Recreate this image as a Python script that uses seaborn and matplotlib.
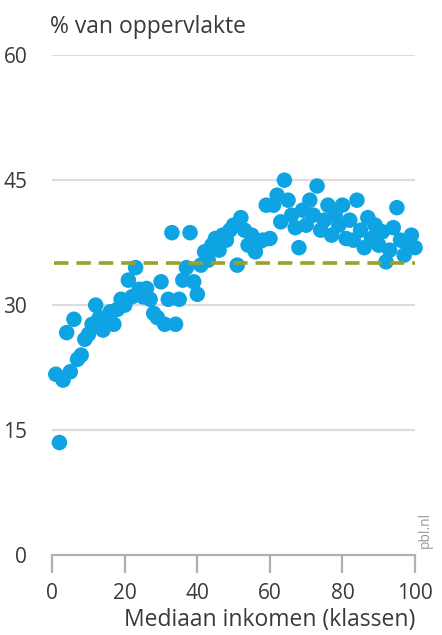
import matplotlib
matplotlib.use("Agg")
import matplotlib.pyplot as plt
import seaborn as sns
import pandas as pd
import numpy as np

income_class = list(range(1, 101))
area_pct = [
    21.7, 13.5, 21.0, 26.7, 22.0, 28.3, 23.5, 24.0, 25.9, 26.5,
    27.7, 30.0, 28.5, 27.0, 28.3, 29.2, 27.7, 29.5, 30.7, 30.0,
    33.0, 31.0, 34.5, 31.9, 31.0, 32.0, 30.7, 29.0, 28.5, 32.8,
    27.7, 30.7, 38.7, 27.7, 30.7, 33.0, 34.5, 38.7, 32.8, 31.3,
    34.8, 36.4, 35.4, 37.2, 38.0, 36.6, 38.4, 37.8, 39.0, 39.6,
    34.8, 40.5, 39.0, 37.2, 38.4, 36.4, 37.6, 37.8, 42.0, 38.0,
    42.0, 43.2, 40.0, 45.0, 42.6, 40.8, 39.3, 36.9, 41.4, 39.6,
    42.6, 40.8, 44.3, 39.0, 40.2, 42.0, 38.4, 40.8, 39.6, 42.0,
    38.0, 40.2, 37.8, 42.6, 39.0, 36.9, 40.5, 38.0, 39.6, 37.2,
    38.8, 35.2, 36.6, 39.3, 41.7, 37.8, 36.0, 37.2, 38.4, 36.9,
]
average_pct = 35.0
y_ticks = [0, 15, 30, 45, 60]
x_ticks = [0, 20, 40, 60, 80, 100]

df = pd.DataFrame({"klasse": income_class, "oppervlakte": area_pct})

sns.set_style("white")
plt.rcParams["font.family"] = ["Open Sans", "DejaVu Sans"]

fig = plt.figure(figsize=(4.42, 6.35), dpi=100)
ax = fig.add_axes([0.118, 0.126, 0.821, 0.787])

for yt in y_ticks[1:]:
    ax.axhline(yt, color="#dcdcdc", lw=1.6, zorder=0)

sns.scatterplot(data=df, x="klasse", y="oppervlakte", ax=ax, s=125,
                color="#0ea4e4", edgecolor="none", linewidth=0, zorder=3,
                clip_on=False, legend=False)

ax.plot([0.5, 100], [average_pct, average_pct], color="#9aa02c", lw=2.6,
        dashes=(4, 2.2), zorder=4)

ax.set_xlim(0, 100)
ax.set_ylim(0, 60)
ax.set_xticks(x_ticks)
ax.set_yticks(y_ticks)
ax.set_xlabel("Mediaan inkomen (klassen)", fontsize=16.5, color="#3a3a3a",
              labelpad=3, loc="right")
ax.set_ylabel("")
for s in ["top", "right", "left"]:
    ax.spines[s].set_visible(False)
ax.spines["bottom"].set_color("#b0b0b0")
ax.spines["bottom"].set_linewidth(1.6)
ax.tick_params(axis="x", direction="out", length=13, width=1.6, color="#b0b0b0",
               labelsize=15, labelcolor="#3a3a3a", pad=7, bottom=True)
ax.tick_params(axis="y", length=0, labelsize=15, labelcolor="#3a3a3a", pad=18)

fig.text(0.113, 0.958, "% van oppervlakte", fontsize=16.5, color="#3a3a3a",
         ha="left", va="center")
fig.text(0.963, 0.165, "pbl.nl", fontsize=10, color="#9a9a9a", rotation=90,
         ha="center", va="center")

fig.savefig("out.png", dpi=100)
